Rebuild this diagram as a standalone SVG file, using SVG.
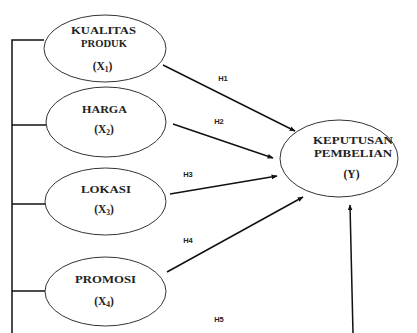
<svg xmlns="http://www.w3.org/2000/svg" width="417" height="333" viewBox="0 0 417 333">
<style>
.node ellipse{fill:#fff;stroke:#333;stroke-width:1}
.t{font-family:"Liberation Serif","Times New Roman",serif;font-weight:bold;font-size:10.5px;fill:#222;text-anchor:middle}
.x{font-size:11.5px}
.s{font-size:7.5px}
.h{font-family:"Liberation Sans",Arial,sans-serif;font-weight:bold;font-size:7.5px;fill:#222;text-anchor:middle}
.c line,.c polyline{stroke:#111;stroke-width:1.5;fill:none}
</style>
<defs>
<marker id="ah" viewBox="0 0 10 10" refX="9" refY="5" markerWidth="6" markerHeight="6" orient="auto" markerUnits="userSpaceOnUse">
<path d="M0,1 L10,5 L0,9 Z" fill="#111"/>
</marker>
</defs>
<rect width="417" height="333" fill="#fff"/>
<g id="connectors" class="c">
<polyline points="44,40 12,40 12,333"/>
<line x1="12" y1="125" x2="46" y2="125"/>
<line x1="12" y1="204" x2="45" y2="204"/>
<line x1="12" y1="291" x2="45" y2="291"/>
<line x1="163" y1="65" x2="295" y2="131" marker-end="url(#ah)"/>
<line x1="173" y1="124" x2="273" y2="158" marker-end="url(#ah)"/>
<line x1="170" y1="194" x2="277" y2="176" marker-end="url(#ah)"/>
<line x1="167" y1="272" x2="303" y2="197" marker-end="url(#ah)"/>
<line x1="353" y1="333" x2="350" y2="205" marker-end="url(#ah)"/>
</g>
<g id="labels">
<text class="h" x="223" y="81">H1</text>
<text class="h" x="219" y="124">H2</text>
<text class="h" x="188" y="177">H3</text>
<text class="h" x="188" y="243">H4</text>
<text class="h" x="219" y="322">H5</text>
</g>
<g id="x1" class="node">
<ellipse cx="105" cy="48.5" rx="61" ry="33.5"/>
<text class="t" x="103.5" y="33.5" textLength="65" lengthAdjust="spacingAndGlyphs">KUALITAS</text>
<text class="t" x="104" y="47" textLength="46" lengthAdjust="spacingAndGlyphs">PRODUK</text>
<text class="t x" x="102.5" y="70">(X<tspan class="s" dy="2">1</tspan><tspan dy="-2">)</tspan></text>
</g>
<g id="x2" class="node">
<ellipse cx="106" cy="122" rx="60" ry="35"/>
<text class="t" x="104.5" y="113" textLength="45" lengthAdjust="spacingAndGlyphs">HARGA</text>
<text class="t x" x="104" y="133">(X<tspan class="s" dy="2">2</tspan><tspan dy="-2">)</tspan></text>
</g>
<g id="x3" class="node">
<ellipse cx="105.5" cy="201.5" rx="60.5" ry="33.5"/>
<text class="t" x="106" y="193" textLength="50" lengthAdjust="spacingAndGlyphs">LOKASI</text>
<text class="t x" x="104" y="213">(X<tspan class="s" dy="2">3</tspan><tspan dy="-2">)</tspan></text>
</g>
<g id="x4" class="node">
<ellipse cx="105.5" cy="291.5" rx="60.5" ry="34.5"/>
<text class="t" x="105.5" y="283" textLength="61" lengthAdjust="spacingAndGlyphs">PROMOSI</text>
<text class="t x" x="104" y="305">(X<tspan class="s" dy="2">4</tspan><tspan dy="-2">)</tspan></text>
</g>
<g id="y" class="node">
<ellipse cx="339" cy="158.5" rx="59" ry="38.5"/>
<text class="t" x="353" y="143.5" textLength="80" lengthAdjust="spacingAndGlyphs">KEPUTUSAN</text>
<text class="t" x="353" y="157" textLength="78" lengthAdjust="spacingAndGlyphs">PEMBELIAN</text>
<text class="t x" x="351.5" y="178">(Y)</text>
</g>
</svg>
